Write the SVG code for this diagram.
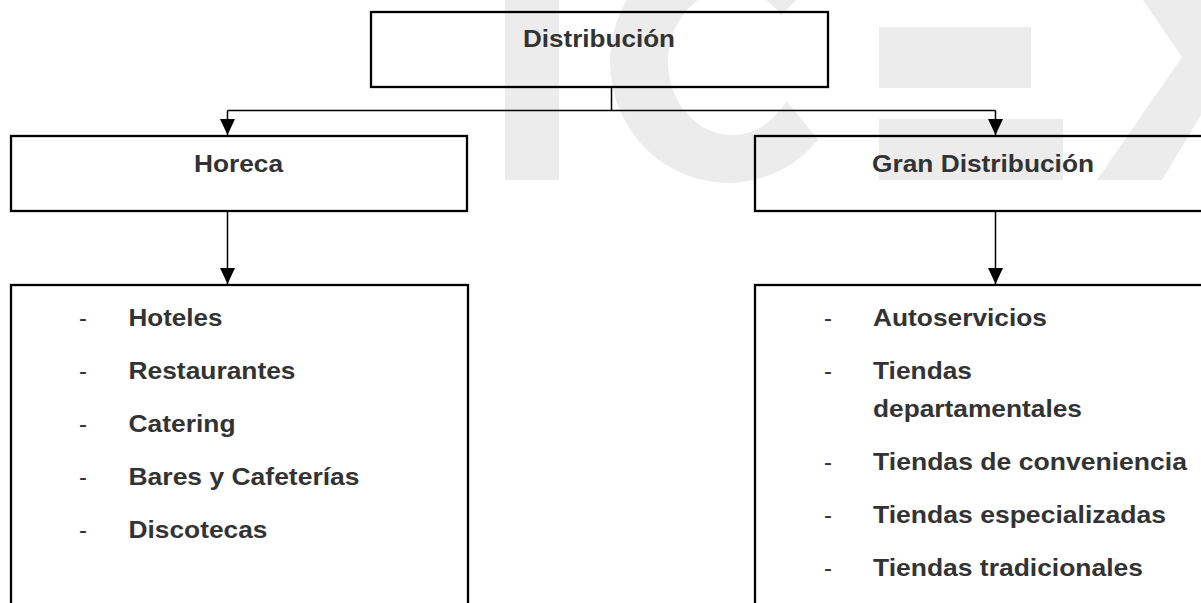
<svg xmlns="http://www.w3.org/2000/svg" width="1201" height="603" viewBox="0 0 1201 603">
  <style>
    .wm { fill: #ececec; stroke: none; }
    .box { fill: none; stroke: #000; stroke-width: 2.3; }
    .con { fill: none; stroke: #000; stroke-width: 1.5; }
    .lbl { font-family: "Liberation Sans", Arial, sans-serif; font-weight: bold; font-size: 24px; fill: #333333; }
    .dash { font-family: "Liberation Sans", Arial, sans-serif; font-weight: normal; font-size: 24px; fill: #333333; }
  </style>
  <defs>
    <marker id="arr" viewBox="0 0 16 15" refX="16" refY="7.5" markerWidth="16" markerHeight="15" markerUnits="userSpaceOnUse" orient="auto">
      <path d="M0,0 L16,7.5 L0,15 Z" fill="#000"/>
    </marker>
  </defs>
  <rect x="0" y="0" width="1201" height="603" fill="#ffffff"/>

  <g id="watermark">
    <rect class="wm" x="505" y="-5" width="54" height="185"/>
    <path class="wm" d="M815.7,-19 A118,121 0 1,0 818.4,139.8 L786.3,100.7 A64,73 0 1,1 781,15 Z"/>
    <rect class="wm" x="879" y="27" width="152" height="61"/>
    <rect class="wm" x="879" y="119" width="184" height="61"/>
    <polygon class="wm" points="1143,0 1201,0 1201,115 1162,180 1097,180 1182,57"/>
  </g>

  <g id="connectors">
    <path class="con" d="M611.5,87 V110.5"/>
    <path class="con" d="M227.5,110.5 H995.5"/>
    <path class="con" d="M227.5,110.5 V135" marker-end="url(#arr)"/>
    <path class="con" d="M995.5,110.5 V135" marker-end="url(#arr)"/>
    <path class="con" d="M227.5,211 V284" marker-end="url(#arr)"/>
    <path class="con" d="M995.5,211 V284" marker-end="url(#arr)"/>
  </g>

  <g id="node-distribucion">
    <rect class="box" x="371" y="12" width="457" height="75"/>
    <text class="lbl" x="523" y="47" textLength="152" lengthAdjust="spacingAndGlyphs">Distribución</text>
  </g>

  <g id="node-horeca">
    <rect class="box" x="11" y="136" width="456" height="75"/>
    <text class="lbl" x="194" y="172" textLength="89" lengthAdjust="spacingAndGlyphs">Horeca</text>
  </g>

  <g id="node-gran-distribucion">
    <rect class="box" x="755" y="136" width="470" height="75"/>
    <text class="lbl" x="872" y="172" textLength="222" lengthAdjust="spacingAndGlyphs">Gran Distribución</text>
  </g>

  <g id="node-horeca-list">
    <rect class="box" x="11" y="285" width="457" height="340"/>
    <text class="dash" x="79" y="326">-</text>
    <text class="lbl" x="128.5" y="326" textLength="94" lengthAdjust="spacingAndGlyphs">Hoteles</text>
    <text class="dash" x="79" y="379">-</text>
    <text class="lbl" x="128.5" y="379" textLength="167" lengthAdjust="spacingAndGlyphs">Restaurantes</text>
    <text class="dash" x="79" y="432">-</text>
    <text class="lbl" x="128.5" y="432" textLength="107" lengthAdjust="spacingAndGlyphs">Catering</text>
    <text class="dash" x="79" y="485">-</text>
    <text class="lbl" x="128.5" y="485" textLength="231" lengthAdjust="spacingAndGlyphs">Bares y Cafeterías</text>
    <text class="dash" x="79" y="538">-</text>
    <text class="lbl" x="128.5" y="538" textLength="139" lengthAdjust="spacingAndGlyphs">Discotecas</text>
  </g>

  <g id="node-gran-distribucion-list">
    <rect class="box" x="755" y="285" width="470" height="340"/>
    <text class="dash" x="824" y="326">-</text>
    <text class="lbl" x="873" y="326" textLength="174" lengthAdjust="spacingAndGlyphs">Autoservicios</text>
    <text class="dash" x="824" y="379">-</text>
    <text class="lbl" x="873" y="379" textLength="99" lengthAdjust="spacingAndGlyphs">Tiendas</text>
    <text class="lbl" x="873" y="417" textLength="209" lengthAdjust="spacingAndGlyphs">departamentales</text>
    <text class="dash" x="824" y="470">-</text>
    <text class="lbl" x="873" y="470" textLength="314" lengthAdjust="spacingAndGlyphs">Tiendas de conveniencia</text>
    <text class="dash" x="824" y="523">-</text>
    <text class="lbl" x="873" y="523" textLength="293" lengthAdjust="spacingAndGlyphs">Tiendas especializadas</text>
    <text class="dash" x="824" y="576">-</text>
    <text class="lbl" x="873" y="576" textLength="270" lengthAdjust="spacingAndGlyphs">Tiendas tradicionales</text>
  </g>
</svg>
